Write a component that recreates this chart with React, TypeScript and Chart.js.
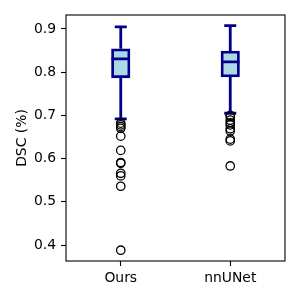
import React, { useEffect, useRef } from "react";
import { Chart, registerables } from "chart.js";

Chart.register(...registerables);

const categories = ["Ours", "nnUNet"];
const whiskerLow = [0.692, 0.705];
const q1 = [0.787, 0.789];
const median = [0.831, 0.824];
const q3 = [0.854, 0.849];
const whiskerHigh = [0.905, 0.908];
const oursOutliers = [0.682, 0.678, 0.674, 0.67, 0.652, 0.619, 0.591, 0.589, 0.566, 0.56, 0.536, 0.388];
const nnunetOutliers = [0.7, 0.697, 0.689, 0.683, 0.678, 0.669, 0.664, 0.645, 0.641, 0.583];
const yTicks = [0.4, 0.5, 0.6, 0.7, 0.8, 0.9];
const yMin = 0.363;
const yMax = 0.9324;

const EDGE = "#00008b";
const FILL = "#add8e6";
const LW = 2.8;
const FONT = { family: "'DejaVu Sans', sans-serif", size: 13.9 };

const boxPlugin = {
  id: "boxParts",
  afterDatasetDraw(chart: any, args: any) {
    if (args.index !== 0) return;
    const { ctx, scales } = chart;
    const xs = scales.x;
    const ys = scales.y;
    ctx.save();
    ctx.strokeStyle = EDGE;
    ctx.lineWidth = LW;
    categories.forEach((c, i) => {
      const x = xs.getPixelForValue(i);
      ctx.lineCap = "butt";
      ctx.beginPath();
      ctx.moveTo(x, ys.getPixelForValue(q3[i]));
      ctx.lineTo(x, ys.getPixelForValue(whiskerHigh[i]));
      ctx.moveTo(x, ys.getPixelForValue(q1[i]));
      ctx.lineTo(x, ys.getPixelForValue(whiskerLow[i]));
      ctx.stroke();
      ctx.lineCap = "square";
      ctx.beginPath();
      const hi = ys.getPixelForValue(whiskerHigh[i]);
      const lo = ys.getPixelForValue(whiskerLow[i]);
      ctx.moveTo(x - 4.6, hi);
      ctx.lineTo(x + 4.6, hi);
      ctx.moveTo(x - 4.6, lo);
      ctx.lineTo(x + 4.6, lo);
      const m = ys.getPixelForValue(median[i]);
      ctx.moveTo(x - 7.8, m);
      ctx.lineTo(x + 7.8, m);
      ctx.stroke();
    });
    ctx.restore();
  },
  afterDraw(chart: any) {
    const { ctx, chartArea } = chart;
    ctx.save();
    ctx.strokeStyle = "#000";
    ctx.lineWidth = 1.1;
    ctx.strokeRect(chartArea.left, chartArea.top, chartArea.right - chartArea.left, chartArea.bottom - chartArea.top);
    ctx.restore();
  },
};

export default function App() {
  const ref = useRef<HTMLCanvasElement>(null);
  useEffect(() => {
    document.body.style.margin = "0";
    const chart = new Chart(ref.current as HTMLCanvasElement, {
      type: "bar",
      data: {
        labels: categories,
        datasets: [
          {
            type: "bar",
            data: categories.map((_, i) => [q1[i], q3[i]]) as any,
            backgroundColor: FILL,
            borderColor: EDGE,
            borderWidth: LW,
            borderSkipped: false,
            barThickness: 18.5,
            order: 2,
          } as any,
          {
            type: "scatter",
            data: [
              ...oursOutliers.map((v) => ({ x: categories[0], y: v })),
              ...nnunetOutliers.map((v) => ({ x: categories[1], y: v })),
            ] as any,
            pointRadius: 4.2,
            pointBorderWidth: 1.3,
            pointBorderColor: "#000",
            pointBackgroundColor: "rgba(0,0,0,0)",
            order: 1,
          } as any,
        ],
      },
      options: {
        responsive: false,
        animation: false,
        events: [],
        layout: { padding: { left: 0, right: 15, top: 15, bottom: 0 } },
        plugins: { legend: { display: false }, tooltip: { enabled: false } },
        scales: {
          x: {
            type: "category",
            offset: true,
            border: { display: false },
            grid: { drawOnChartArea: false, offset: false, tickLength: 5, tickColor: "#000", tickWidth: 1.1 },
            ticks: { color: "#000", font: FONT, padding: 4 },
            afterFit(s: any) {
              s.height = 39;
            },
          },
          y: {
            type: "linear",
            min: yMin,
            max: yMax,
            border: { display: false },
            grid: { drawOnChartArea: false, tickLength: 5, tickColor: "#000", tickWidth: 1.1 },
            ticks: {
              color: "#000",
              font: FONT,
              padding: 5,
              callback: (v: any) => Number(v).toFixed(1),
            },
            afterBuildTicks(s: any) {
              s.ticks = yTicks.map((v) => ({ value: v }));
            },
            title: { display: true, text: "DSC (%)", color: "#000", font: FONT, padding: { top: 14, bottom: 0 } },
            afterFit(s: any) {
              s.width = 66;
            },
          },
        },
      },
      plugins: [boxPlugin],
    });
    return () => chart.destroy();
  }, []);
  return (
    <div style={{ width: 300, height: 300 }}>
      <canvas ref={ref} width={300} height={300} />
    </div>
  );
}
